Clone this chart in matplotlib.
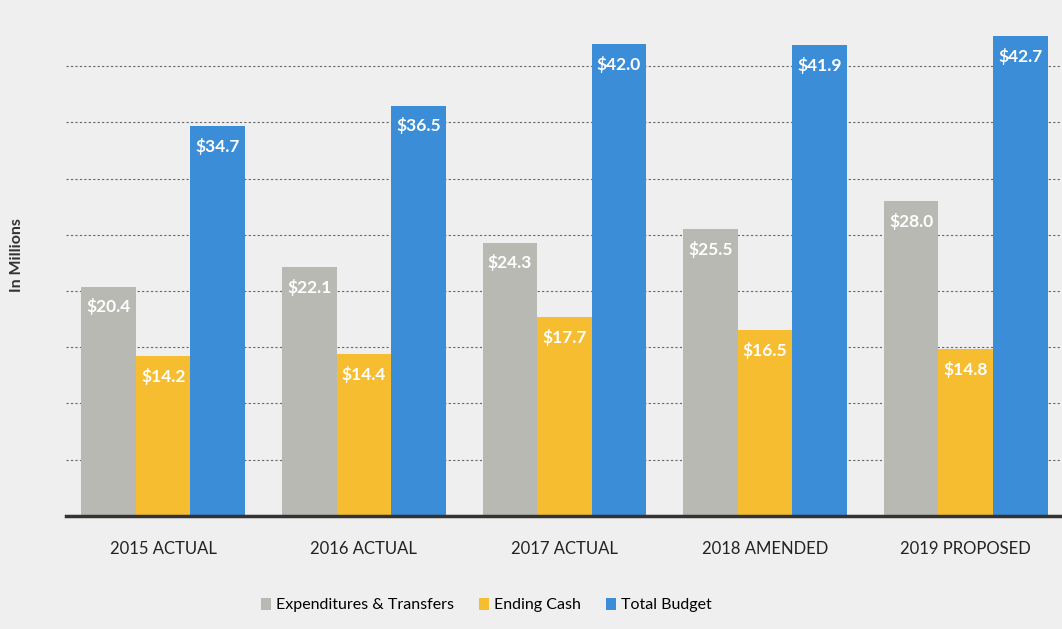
import matplotlib.pyplot as plt
import numpy as np

years = ['2015 ACTUAL', '2016 ACTUAL', '2017 ACTUAL', '2018 AMENDED', '2019 PROPOSED']
expenditures = [20.4, 22.1, 24.3, 25.5, 28.0]
ending_cash = [14.2, 14.4, 17.7, 16.5, 14.8]
total_budget = [34.7, 36.5, 42.0, 41.9, 42.7]

series = [('Expenditures & Transfers', expenditures, '#b9b9b4'),
          ('Ending Cash', ending_cash, '#f6bd30'),
          ('Total Budget', total_budget, '#3a8dd6')]

plt.rcParams['font.family'] = ['Lato', 'DejaVu Sans']

bg = '#efefef'
fig = plt.figure(figsize=(10.62, 6.29), dpi=100, facecolor=bg)
ax = fig.add_axes([0.062, 0.18, 0.938, 0.82], facecolor=bg)

x = np.arange(len(years))
width = 0.272

for i, (name, vals, col) in enumerate(series):
    bars = ax.bar(x + (i - 1) * width, vals, width, color=col, label=name, zorder=3)
    for b, v in zip(bars, vals):
        ax.text(b.get_x() + b.get_width() / 2, v - 1.8, '$%.1f' % v,
                ha='center', va='center', color='white', fontsize=12.5,
                fontweight='bold', zorder=4)

ax.set_xlim(-0.485, 4.48)
ax.set_ylim(0, 45.9)
ax.set_yticks(np.arange(5, 45, 5))
ax.yaxis.grid(True, linestyle=(0, (2, 2)), color='#666666', linewidth=0.8, zorder=1)
ax.tick_params(axis='y', left=False, labelleft=False)
ax.tick_params(axis='x', bottom=False, pad=15, labelsize=12, labelcolor='#222222')
ax.set_xticks(x)
ax.set_xticklabels(years)

for s in ['top', 'right', 'left']:
    ax.spines[s].set_visible(False)
ax.spines['bottom'].set_linewidth(2.5)
ax.spines['bottom'].set_color('#333333')
ax.spines['bottom'].set_zorder(5)

fig.text(0.016, 0.595, 'In Millions', rotation=90, ha='center', va='center',
         fontsize=11.5, fontweight='bold', color='#333333')

fig.legend(loc='center', bbox_to_anchor=(0.458, 0.038), ncol=3, frameon=False,
           fontsize=11.5, handlelength=0.6, handleheight=0.8, handletextpad=0.3,
           columnspacing=1.6)

fig.savefig('out.png', dpi=100, facecolor=bg)
